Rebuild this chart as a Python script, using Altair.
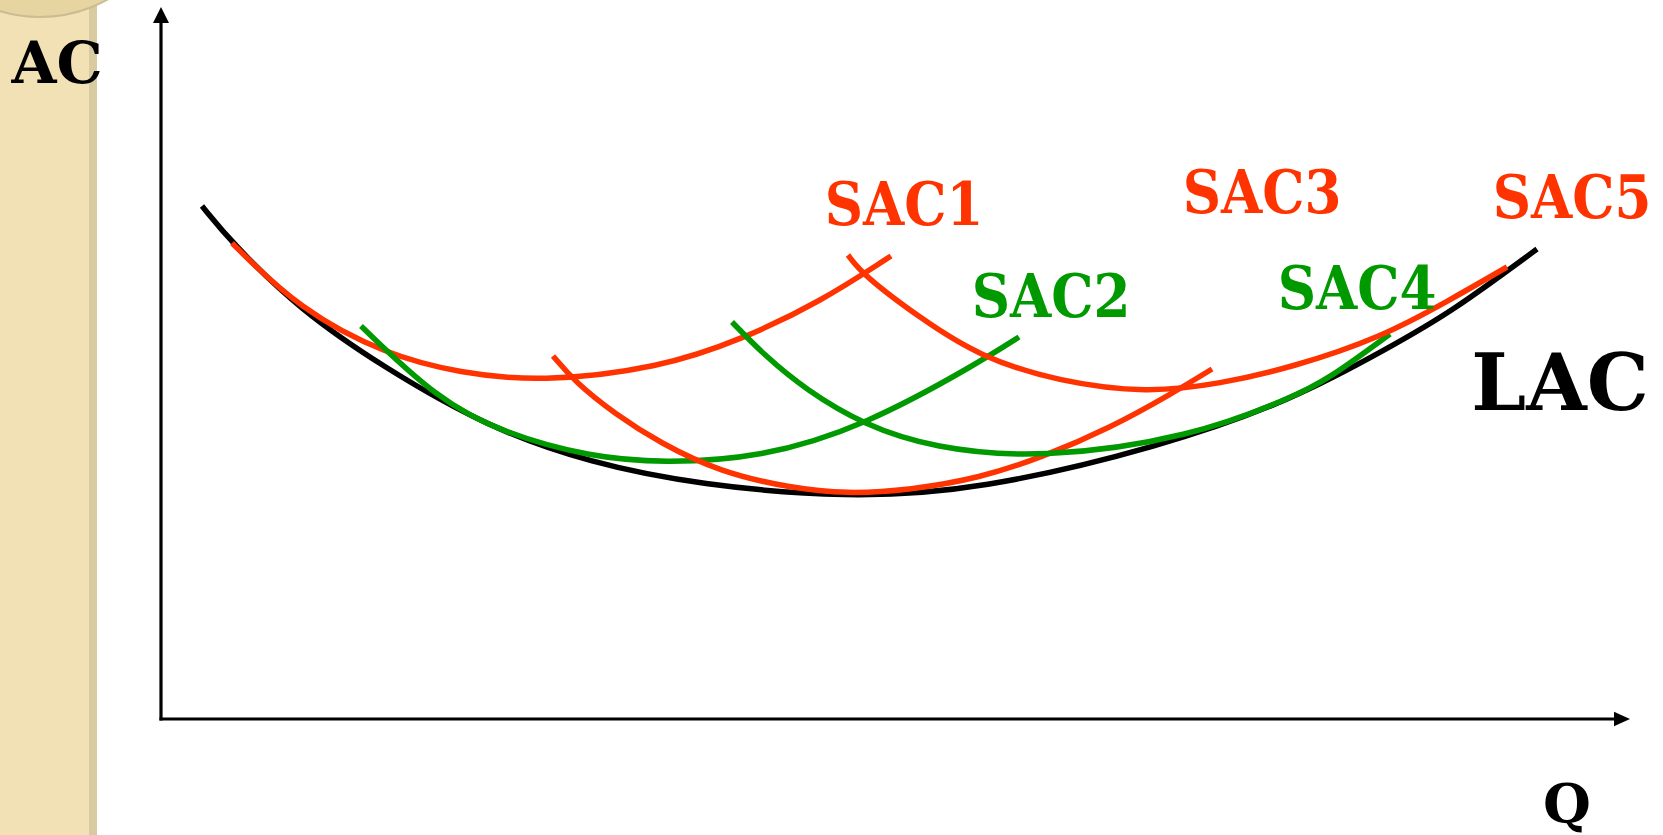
import altair as alt
import pandas as pd

# Output Q (horizontal) and average cost AC (vertical), in arbitrary units
Q_MAX = 1469
AC_MAX = 712

# Long-run average cost (envelope)
lac_q = [41, 71, 139, 222, 326, 429, 539, 686, 819, 999, 1132, 1229, 1289, 1376]
lac_ac = [513, 476, 409, 352, 292, 256, 234, 221, 229, 272, 319, 372, 406, 470]

# Short-run average cost curves for five plant sizes
sac1_q = [71, 139, 226, 299, 379, 499, 582, 659, 730]
sac1_ac = [476, 409, 364, 346, 337, 351, 380, 417, 463]

sac2_q = [200, 276, 342, 429, 502, 599, 704, 819, 858]
sac2_ac = [393, 320, 286, 262, 256, 261, 293, 357, 382]

sac3_q = [392, 414, 454, 499, 559, 629, 686, 749, 819, 882, 949, 1012, 1051]
sac3_ac = [363, 337, 305, 276, 247, 231, 225, 229, 241, 262, 291, 326, 350]

sac4_q = [571, 603, 645, 703, 772, 879, 1032, 1132, 1166, 1229]
sac4_ac = [397, 364, 329, 294, 271, 260, 282, 322, 339, 385]

sac5_q = [687, 702, 759, 819, 899, 986, 1059, 1132, 1219, 1289, 1346]
sac5_ac = [464, 444, 401, 362, 337, 326, 335, 352, 381, 419, 452]

# Curve labels
label_text = ["SAC1", "SAC2", "SAC3", "SAC4", "SAC5"]
label_q = [743, 890, 1101, 1196, 1411]
label_ac = [494, 402, 506, 410, 501]

# Axis titles and the envelope label
title_text = ["LAC", "AC", "Q"]
title_q = [1399, -104, 1406]
title_ac = [309, 636, -104]

RED = "#FF3300"
GREEN = "#009900"
SERIF = "DejaVu Serif"
SERIF_NARROW = "DejaVu Serif Condensed"

xs = alt.Scale(domain=[0, Q_MAX], nice=False, zero=False)
ys = alt.Scale(domain=[0, AC_MAX], nice=False, zero=False)


def X(field):
    return alt.X(field, type="quantitative", scale=xs, axis=None)


def Y(field):
    return alt.Y(field, type="quantitative", scale=ys, axis=None)


one_row = pd.DataFrame({"k": [0]})


def curve(q, ac, color):
    df = pd.DataFrame({"q": q, "ac": ac})
    return alt.Chart(df).mark_line(
        color=color, strokeWidth=5.5, interpolate="basis", strokeCap="butt"
    ).encode(x=X("q"), y=Y("ac"))


# Beige side panel of the slide
panel = alt.Chart(one_row).mark_rect(color="#F1E1B4").encode(
    x=alt.value(-161), x2=alt.value(-72), y=alt.value(-7), y2=alt.value(828)
)
panel_edge = alt.Chart(one_row).mark_rect(color="#D9CBA1").encode(
    x=alt.value(-72), x2=alt.value(-64), y=alt.value(-7), y2=alt.value(828)
)
panel_cap = alt.Chart(one_row).mark_point(
    shape="circle", filled=True, size=77284, color="#E7D5A1",
    stroke="#CBBC93", strokeWidth=2, opacity=1
).encode(x=alt.value(-121), y=alt.value(-129))

# Axes with arrowheads
axes_df = pd.DataFrame({
    "q": [0, -1.5], "ac": [-1.5, 0],
    "q2": [0, Q_MAX - 12], "ac2": [AC_MAX - 12, 0],
})
axes = alt.Chart(axes_df).mark_rule(color="black", strokeWidth=3.2).encode(
    x=X("q"), y=Y("ac"), x2="q2:Q", y2="ac2:Q"
)
up_df = pd.DataFrame({"q": [0], "ac": [AC_MAX - 8]})
right_df = pd.DataFrame({"q": [Q_MAX - 8], "ac": [0]})
y_arrow = alt.Chart(up_df).mark_point(
    shape="M0,-1L-1,1L1,1Z", filled=True, size=256, color="black", strokeWidth=0, opacity=1
).encode(x=X("q"), y=Y("ac"))
x_arrow = alt.Chart(right_df).mark_point(
    shape="M1,0L-1,-0.9L-1,0.9Z", filled=True, size=256, color="black", strokeWidth=0, opacity=1
).encode(x=X("q"), y=Y("ac"))

curves = [
    curve(lac_q, lac_ac, "black"),
    curve(sac1_q, sac1_ac, RED),
    curve(sac2_q, sac2_ac, GREEN),
    curve(sac3_q, sac3_ac, RED),
    curve(sac4_q, sac4_ac, GREEN),
    curve(sac5_q, sac5_ac, RED),
]

labels = pd.DataFrame({
    "text": label_text,
    "q": label_q,
    "ac": label_ac,
    "color": [RED, GREEN, RED, GREEN, RED],
})
sac_text = alt.Chart(labels).mark_text(
    font=SERIF_NARROW, fontWeight="bold", fontSize=59, align="center", baseline="alphabetic"
).encode(
    x=X("q"), y=Y("ac"),
    text="text:N",
    color=alt.Color("color:N", scale=None),
)

titles = pd.DataFrame({
    "text": title_text, "q": title_q, "ac": title_ac, "size": [78, 58, 55],
})
title_marks = alt.Chart(titles).mark_text(
    font=SERIF, fontWeight="bold", color="black", align="center", baseline="alphabetic"
).encode(
    x=X("q"), y=Y("ac"),
    text="text:N",
    size=alt.Size("size:Q", scale=None),
)

chart = alt.layer(
    panel, panel_edge, panel_cap,
    axes, y_arrow, x_arrow,
    *curves,
    sac_text, title_marks,
).properties(
    width=Q_MAX, height=AC_MAX,
    padding={"left": 161, "top": 7, "right": 33, "bottom": 116},
    autosize=alt.AutoSizeParams(type="none"),
    background="white",
).configure_view(stroke=None)

chart.save("out.html", embed_options={"renderer": "svg", "actions": False})
